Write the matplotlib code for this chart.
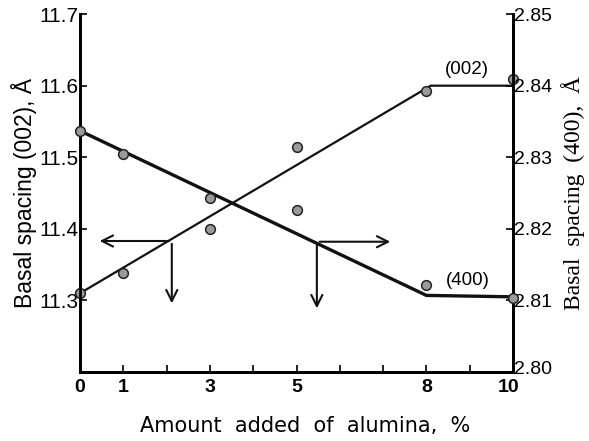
import matplotlib
matplotlib.use("Agg")
import matplotlib.pyplot as plt
import matplotlib.transforms as mtrans
import numpy as np

plt.rcParams["font.family"] = ["Liberation Sans", "DejaVu Sans"]

# (002) basal spacing, left axis (A)
x_002 = [0, 1, 3, 5, 8, 10]
y_002 = [11.31, 11.338, 11.40, 11.515, 11.592, 11.61]
line_002_x = [0, 8.1, 10]
line_002_y = [11.31, 11.60, 11.60]

# (400) basal spacing, right axis (A)
x_400 = [0, 1, 3, 5, 8, 10]
y_400 = [2.8337, 2.8304, 2.8243, 2.8226, 2.8121, 2.8103]
line_400_x = [0, 8, 10]
line_400_y = [2.8337, 2.8107, 2.8105]

x_ticks = list(range(11))
x_ticklabels = ["0", "1", "", "3", "", "5", "", "", "8", "", "10"]
left_ticks = [11.2, 11.3, 11.4, 11.5, 11.6, 11.7]
left_ticklabels = ["", "11.3", "11.4", "11.5", "11.6", "11.7"]
right_ticks = [2.80, 2.81, 2.82, 2.83, 2.84, 2.85]
right_ticklabels = ["2.80", "2.81", "2.82", "2.83", "2.84", "2.85"]

fig = plt.figure(figsize=(5.89, 4.41), dpi=100)
ax = fig.add_axes([0.1358, 0.1565, 0.7352, 0.8115])
ax2 = ax.twinx()

mk = dict(marker="o", ls="none", ms=7, mfc="#9a9a9a", mec="#222222", mew=1.1,
          zorder=5, clip_on=False)

ax.plot(line_002_x, line_002_y, color="#111111", lw=1.6, clip_on=False)
ax.plot(x_002, y_002, **mk)
ax2.plot(line_400_x, line_400_y, color="#111111", lw=2.4, clip_on=False)
ax2.plot(x_400, y_400, **mk)

ax.set_xlim(0, 10)
ax.set_ylim(11.2, 11.7)
ax2.set_ylim(2.80, 2.85)

ax.set_xticks(x_ticks)
ax.set_xticklabels(x_ticklabels, fontweight="bold", fontsize=14)
ax.set_yticks(left_ticks)
ax.set_yticklabels(left_ticklabels, fontsize=15)
ax2.set_yticks(right_ticks)
ax2.set_yticklabels(right_ticklabels, fontsize=14)

ax.tick_params(axis="x", direction="in", length=5, width=1.2, pad=5)
ax.tick_params(axis="y", direction="in", length=5, width=1.2, pad=1)
ax2.tick_params(axis="y", direction="in", length=5, width=1.2, pad=1)

# "10" sits just left of the corner, under the 2.80 label
last = ax.get_xticklabels()[-1]
last.set_ha("right")
last.set_transform(last.get_transform() +
                   mtrans.ScaledTranslation(6 / 100, 0, fig.dpi_scale_trans))
lowest = ax2.get_yticklabels()[0]
lowest.set_va("bottom")
lowest.set_transform(lowest.get_transform() +
                     mtrans.ScaledTranslation(0, -6 / 100, fig.dpi_scale_trans))

for a in (ax, ax2):
    a.spines["top"].set_visible(False)
    for s in ("left", "right", "bottom"):
        a.spines[s].set_linewidth(2.0)

# arrows pointing to the axes
arr = dict(arrowstyle="->", color="#111111", lw=1.5, mutation_scale=20)
ax.annotate("", xy=(0.39, 11.383), xytext=(2.12, 11.383), arrowprops=arr)
ax.annotate("", xy=(2.12, 11.292), xytext=(2.12, 11.383), arrowprops=arr)
ax.annotate("", xy=(7.23, 11.382), xytext=(5.47, 11.382), arrowprops=arr)
ax.annotate("", xy=(5.47, 11.285), xytext=(5.47, 11.382), arrowprops=arr)

ax.text(8.93, 11.622, "(002)", fontsize=13.5, ha="center", va="center")
ax2.text(8.45, 2.8128, "(400)", fontsize=13.5, ha="left", va="center")

ax.set_xlabel("Amount  added  of  alumina,  %", fontsize=15,
              family=["DejaVu Sans"])
ax.xaxis.set_label_coords(0.52, -0.122)
ax.set_ylabel("Basal spacing (002), Å", fontsize=16.5, labelpad=2)
ax2.set_ylabel("Basal  spacing  (400),  Å", fontsize=17,
               family=["Liberation Serif", "DejaVu Serif"], labelpad=6)

fig.savefig("out.png", dpi=100)
